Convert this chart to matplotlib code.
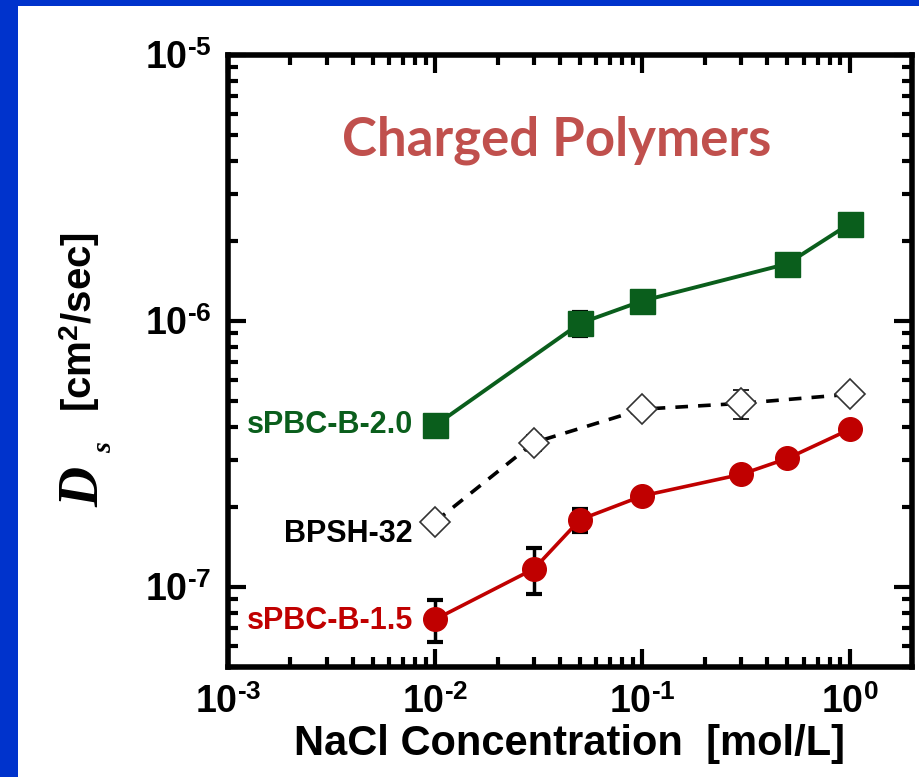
"""Salt diffusion coefficient vs NaCl concentration for charged polymers."""
import matplotlib
matplotlib.use('Agg')
import matplotlib.pyplot as plt
import matplotlib.font_manager as fm
from matplotlib.patches import Rectangle
from matplotlib.ticker import LogLocator, NullFormatter, FixedLocator

names = {f.name for f in fm.fontManager.ttflist}
NARROW = 'Liberation Sans Narrow' if 'Liberation Sans Narrow' in names else 'Liberation Sans'

plt.rcParams['font.family'] = 'Liberation Sans'
plt.rcParams['font.weight'] = 'bold'
plt.rcParams['mathtext.fontset'] = 'custom'
plt.rcParams['mathtext.rm'] = NARROW + ':bold'
plt.rcParams['mathtext.bf'] = NARROW + ':bold'
plt.rcParams['mathtext.it'] = 'Liberation Serif:bold:italic'

GREEN = '#0a5e1c'
RED = '#c00000'

# sPBC-B-2.0
x_b20 = [0.01, 0.05, 0.1, 0.5, 1.0]
y_b20 = [4.05e-7, 9.8e-7, 1.19e-6, 1.64e-6, 2.32e-6]
e_b20 = [0.0, 0.1e-6, 0.0, 0.0, 0.17e-6]

# BPSH-32
x_bpsh = [0.01, 0.03, 0.1, 0.3, 1.0]
y_bpsh = [1.76e-7, 3.49e-7, 4.66e-7, 4.9e-7, 5.3e-7]
e_bpsh = [0.0, 0.25e-7, 0.0, 0.62e-7, 0.0]

# sPBC-B-1.5
x_b15 = [0.01, 0.03, 0.05, 0.1, 0.3, 0.5, 1.0]
y_b15 = [7.55e-8, 1.17e-7, 1.79e-7, 2.2e-7, 2.65e-7, 3.04e-7, 3.91e-7]
e_b15 = [1.35e-8, 2.3e-8, 1.75e-8, 0.0, 0.0, 0.0, 0.0]

x_ticks = [1e-3, 1e-2, 1e-1, 1e0]
x_ticklabels = [r'$10^{\text{-}3}$', r'$10^{\text{-}2}$', r'$10^{\text{-}1}$', r'$10^{0}$']
y_ticks = [1e-7, 1e-6, 1e-5]
y_ticklabels = [r'$10^{\text{-}7}$', r'$10^{\text{-}6}$', r'$10^{\text{-}5}$']

fig = plt.figure(figsize=(9.2, 7.77), dpi=100)
fig.patch.set_facecolor('#0033cc')
fig.patches.append(Rectangle((18 / 920, 0), 1, 1 - 6 / 777, transform=fig.transFigure,
                             facecolor='white', edgecolor='none', zorder=-10))

ax = fig.add_axes([0.2478, 0.1416, 0.7435, 0.7876])
ax.set_xscale('log')
ax.set_yscale('log')
ax.set_xlim(1e-3, 2)
ax.set_ylim(5e-8, 1e-5)

ax.errorbar(x_b20, y_b20, yerr=e_b20, color=GREEN, ecolor='black', elinewidth=2.5,
            capsize=6, capthick=3, lw=2.8, marker='s', ms=18, mec=GREEN, mfc=GREEN)
ax.errorbar(x_bpsh, y_bpsh, yerr=e_bpsh, color='black', ecolor='black', elinewidth=2.5,
            capsize=6, capthick=3, lw=2.6, ls=(0, (3.5, 2.8)), marker='D', ms=15,
            mec='#333333', mfc='white', mew=1.2)
ax.errorbar(x_b15, y_b15, yerr=e_b15, color=RED, ecolor='black', elinewidth=2.5,
            capsize=6, capthick=3, lw=2.6, marker='o', ms=17, mec=RED, mfc=RED)

ax.xaxis.set_major_locator(FixedLocator(x_ticks))
ax.set_xticklabels(x_ticklabels)
ax.yaxis.set_major_locator(FixedLocator(y_ticks))
ax.set_yticklabels(y_ticklabels)
ax.xaxis.set_minor_locator(LogLocator(base=10, subs=range(2, 10)))
ax.yaxis.set_minor_locator(LogLocator(base=10, subs=range(2, 10)))
ax.xaxis.set_minor_formatter(NullFormatter())
ax.yaxis.set_minor_formatter(NullFormatter())

ax.tick_params(which='both', direction='in', top=True, right=True, width=3)
ax.tick_params(which='major', length=13, labelsize=27)
ax.tick_params(which='minor', length=7)
ax.tick_params(axis='x', which='major', pad=13)
ax.tick_params(axis='y', which='major', pad=12)
for lab in ax.get_yticklabels():
    lab.set_va('center_baseline')
for sp in ax.spines.values():
    sp.set_linewidth(4)

ax.set_xlabel('NaCl Concentration  [mol/L]', fontsize=30, fontweight='bold', labelpad=2)

# y label built from pieces: large serif italic D, subscript s, units
fig.text(102 / 920, 1 - 322 / 777, r'[cm$^2$/sec]', rotation=90, ha='right', va='center',
         fontsize=29, fontweight='bold')
fig.text(110 / 920, 1 - 487 / 777, 'D', rotation=90, ha='right', va='center',
         fontsize=40, fontweight='bold', style='italic', family='Liberation Serif')
fig.text(117 / 920, 1 - 448 / 777, 's', rotation=90, ha='right', va='center',
         fontsize=20, fontweight='bold', style='italic', family='Liberation Serif')

ax.text(0.48, 0.861, 'Charged Polymers', transform=ax.transAxes, ha='center', va='center',
        fontsize=38, fontweight='bold', family='Lato', color='#c0504d')

ax.text(0.0078, y_b20[0], 'sPBC-B-2.0', ha='right', va='center', fontsize=22,
        fontweight='bold', color=GREEN)
ax.text(0.0078, 1.58e-7, 'BPSH-32', ha='right', va='center', fontsize=22,
        fontweight='bold', color='black')
ax.text(0.0078, y_b15[0] * 0.99, 'sPBC-B-1.5', ha='right', va='center', fontsize=22,
        fontweight='bold', color=RED)

fig.savefig('out.png', dpi=100, facecolor=fig.get_facecolor())
